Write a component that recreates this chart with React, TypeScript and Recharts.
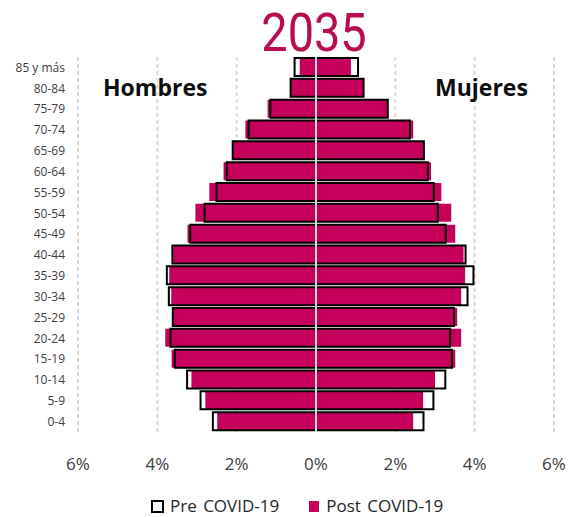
import { BarChart, Bar, XAxis, YAxis, CartesianGrid, ReferenceLine } from 'recharts';

// #region Data (percent of total population, men shown as negative)
const ages = ['0-4', '5-9', '10-14', '15-19', '20-24', '25-29', '30-34', '35-39', '40-44', '45-49', '50-54', '55-59', '60-64', '65-69', '70-74', '75-79', '80-84', '85 y más'];
const menPre = [2.6, 2.91, 3.25, 3.56, 3.67, 3.61, 3.71, 3.76, 3.62, 3.17, 2.81, 2.51, 2.25, 2.1, 1.7, 1.15, 0.64, 0.54];
const menPost = [2.49, 2.79, 3.14, 3.64, 3.8, 3.61, 3.65, 3.7, 3.6, 3.24, 3.04, 2.69, 2.33, 2.1, 1.78, 1.22, 0.64, 0.41];
const womenPre = [2.71, 2.96, 3.26, 3.43, 3.38, 3.48, 3.82, 3.97, 3.77, 3.27, 3.07, 2.97, 2.82, 2.72, 2.37, 1.81, 1.2, 1.06];
const womenPost = [2.45, 2.7, 3.0, 3.51, 3.66, 3.56, 3.66, 3.76, 3.72, 3.51, 3.41, 3.16, 2.9, 2.72, 2.45, 1.81, 1.2, 0.88];
const xTicks = [-6, -4, -2, 0, 2, 4, 6];
// #endregion

const CRIMSON = '#c6005a';
const FONT = '"Open Sans", "Noto Sans", sans-serif';

const rows = ages.map((age, i) => ({
  age,
  menPre: -menPre[i],
  womenPre: womenPre[i],
  menPost: -menPost[i],
  womenPost: womenPost[i],
}));

const pct = (v: number) => `${Math.abs(v)}%`;

export default function App() {
  return (
    <div style={{ position: 'absolute', left: 0, top: 0, width: 570, height: 517, fontFamily: FONT, background: '#fff' }}>
      <BarChart
        layout="vertical"
        width={570}
        height={517}
        data={rows}
        margin={{ top: 57, right: 16, bottom: 0, left: 0 }}
        stackOffset="sign"
        barSize={18}
        barGap={-18}
      >
        <CartesianGrid horizontal={false} stroke="#d9d9d9" strokeWidth={2} strokeDasharray="4 3" />
        <XAxis
          type="number"
          domain={[-6, 6]}
          ticks={xTicks}
          interval={0}
          height={85}
          axisLine={false}
          tickLine={false}
          tickSize={0}
          tickMargin={26}
          tickFormatter={pct}
          tick={{ fontSize: 17, fill: '#404040', fontFamily: FONT }}
        />
        <YAxis
          type="category"
          dataKey="age"
          reversed
          width={78}
          axisLine={false}
          tickLine={false}
          tickSize={0}
          tickMargin={13}
          interval={0}
          tick={{ fontSize: 12, fill: '#404040', fontFamily: FONT }}
        />
        <Bar dataKey="menPost" stackId="post" fill={CRIMSON} isAnimationActive={false} />
        <Bar dataKey="womenPost" stackId="post" fill={CRIMSON} isAnimationActive={false} />
        <Bar dataKey="menPre" stackId="pre" fill="none" stroke="#000" strokeWidth={2} isAnimationActive={false} />
        <Bar dataKey="womenPre" stackId="pre" fill="none" stroke="#000" strokeWidth={2} isAnimationActive={false} />
        <ReferenceLine x={0} stroke="#d9d9d9" strokeWidth={2} />
      </BarChart>

      <div
        style={{
          position: 'absolute', left: 214, top: 2, width: 200, textAlign: 'center',
          fontFamily: 'Roboto, sans-serif', fontSize: 53, color: '#b80b50', transform: 'scaleX(0.885)',
        }}
      >
        2035
      </div>
      <div style={{ position: 'absolute', left: 103, top: 76, fontSize: 23, lineHeight: 1, fontWeight: 700, color: '#0d0d0d' }}>
        Hombres
      </div>
      <div style={{ position: 'absolute', left: 435, top: 76, fontSize: 23, lineHeight: 1, fontWeight: 700, color: '#0d0d0d' }}>
        Mujeres
      </div>

      <div style={{ position: 'absolute', left: 151, top: 496, display: 'flex', alignItems: 'center', fontSize: 17, lineHeight: '20px', color: '#262626', whiteSpace: 'nowrap' }}>
        <span style={{ display: 'inline-block', width: 9, height: 9, border: '2px solid #000', background: '#fff' }} />
        <span style={{ marginLeft: 6, wordSpacing: 2 }}>Pre COVID-19</span>
        <span style={{ display: 'inline-block', width: 10, height: 11, background: CRIMSON, marginLeft: 30 }} />
        <span style={{ marginLeft: 7, wordSpacing: 2 }}>Post COVID-19</span>
      </div>
    </div>
  );
}
